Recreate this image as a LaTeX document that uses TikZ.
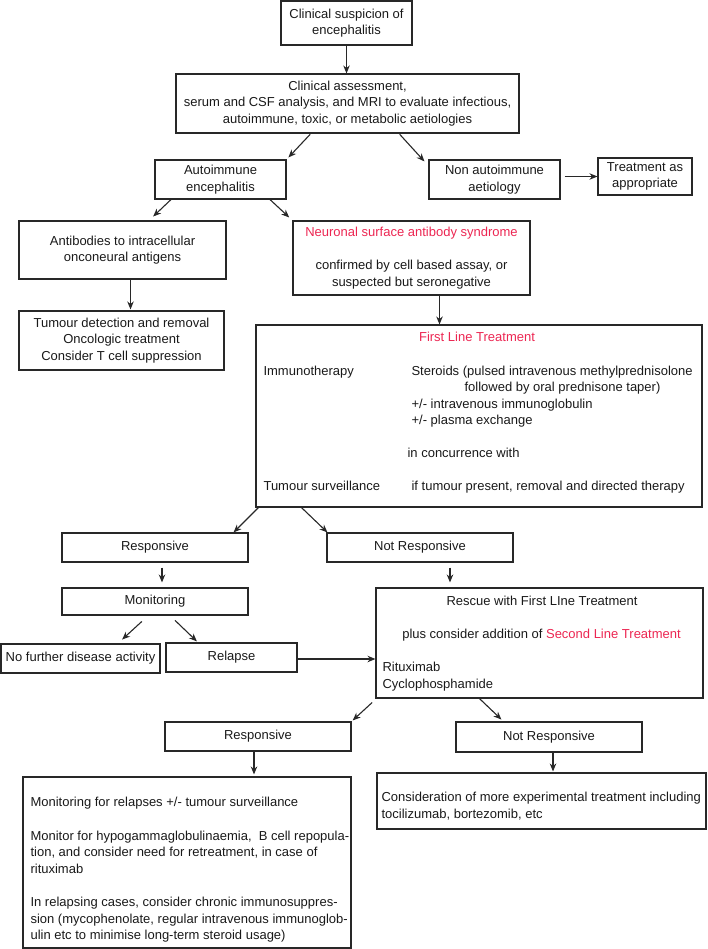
\documentclass[tikz,border=0pt]{standalone}
\usepackage{fontspec}
\setmainfont{Liberation Sans}
\usepackage{tikz}
\usetikzlibrary{arrows.meta, positioning}
\definecolor{alertred}{RGB}{236,38,82}
\definecolor{boxline}{RGB}{40,40,40}

\begin{document}
\begin{tikzpicture}[x=1pt, y=-1pt, ->, >={Stealth[length=8pt,width=6.5pt]}, line width=1.1pt,
 draw=boxline, font=\fontsize{13}{16.6}\selectfont, text=black!90]
 \tikzstyle{box}=[draw=boxline, inner sep=0pt, align=center]
 \tikzstyle{txt}=[inner sep=0pt, anchor=base west]

 \useasboundingbox (0,0) rectangle (708,949);

 \node[box, minimum width=131pt, minimum height=44pt] (susp) at (346.5,23) {Clinical suspicion of\\encephalitis};
 \node[box, minimum width=343pt, minimum height=59pt] (assess) at (347.5,103.5) {Clinical assessment,\\serum and CSF analysis, and MRI to evaluate infectious,\\autoimmune, toxic, or metabolic aetiologies};
 \node[box, minimum width=131pt, minimum height=39pt] (autoimm) at (220.5,179.5) {Autoimmune\\encephalitis};
 \node[box, minimum width=131pt, minimum height=39pt] (nonauto) at (494.5,179.5) {Non autoimmune\\aetiology};
 \node[box, minimum width=94pt, minimum height=37pt] (treatapp) at (645,176.5) {Treatment as\\appropriate};
 \node[box, minimum width=207pt, minimum height=58pt] (intracell) at (122.5,250) {Antibodies to intracellular\\onconeural antigens};
 \node[box, minimum width=237pt, minimum height=74pt] (surface) at (411.5,258) {\textcolor{alertred}{Neuronal surface antibody syndrome}\\[16.6pt]confirmed by cell based assay, or\\suspected but seronegative};
 \node[box, minimum width=205pt, minimum height=59pt] (tumour) at (121.5,340.5) {Tumour detection and removal\\Oncologic treatment\\Consider T cell suppression};

 \node[box, minimum width=446pt, minimum height=182pt] (firstline) at (479,416) {};
 \node[txt, anchor=base, text=alertred] (fltitle) at (477,341.5) {First Line Treatment};
 \node[txt] (immuno) at (263,375.5) {Immunotherapy};
 \node[txt] (steroids) at (411,375.5) {Steroids (pulsed intravenous methylprednisolone};
 \node[txt] (taper) at (464,391.5) {followed by oral prednisone taper)};
 \node[txt] (ivig) at (411,408) {+/- intravenous immunoglobulin};
 \node[txt] (plex) at (411,424.5) {+/- plasma exchange};
 \node[txt] (concur) at (407,457.5) {in concurrence with};
 \node[txt] (tsurv) at (263,490.5) {Tumour surveillance};
 \node[txt] (tpresent) at (411,490.5) {if tumour present, removal and directed therapy};

 \node[box, minimum width=186pt, minimum height=29pt] (resp) at (155,547.5) {Responsive};
 \node[box, minimum width=186pt, minimum height=29pt] (notresp) at (420,547.5) {Not Responsive};
 \node[box, minimum width=186pt, minimum height=27pt] (monitor) at (155,601.5) {Monitoring};
 \node[box, minimum width=159pt, minimum height=29pt] (nofurther) at (80.5,658.5) {No further disease activity};
 \node[box, minimum width=131pt, minimum height=29pt] (relapse) at (231.5,657.5) {Relapse};

 \node[box, minimum width=327pt, minimum height=110pt] (rescue) at (539.5,643) {};
 \node[txt, anchor=base] (rescuetitle) at (542,605.5) {Rescue with First LIne Treatment};
 \node[txt, anchor=base] (secondline) at (541.5,638.5) {plus consider addition of \textcolor{alertred}{Second Line Treatment}};
 \node[txt] (ritux) at (382,671.5) {Rituximab};
 \node[txt] (cyclo) at (382,688.5) {Cyclophosphamide};

 \node[box, minimum width=186pt, minimum height=29pt] (resp2) at (258,736.5) {Responsive};
 \node[box, minimum width=186pt, minimum height=30pt] (notresp2) at (549,737) {Not Responsive};

 \node[box, minimum width=328pt, minimum height=171pt] (followup) at (187,862.5) {};
 \node[txt, anchor=north west, align=left] (followtxt) at (30,797) {Monitoring for relapses +/- tumour surveillance\\[16.6pt]Monitor for hypogammaglobulinaemia,\ \ B cell repopula-\\tion, and consider need for retreatment, in case of\\rituximab\\[16.6pt]In relapsing cases, consider chronic immunosuppres-\\sion (mycophenolate, regular intravenous immunoglob-\\ulin etc to minimise long-term steroid usage)};
 \node[box, minimum width=329pt, minimum height=56pt] (experim) at (541.5,801) {};
 \node[txt, anchor=north west, align=left] (experimtxt) at (381,792) {Consideration of more experimental treatment including\\tocilizumab, bortezomib, etc};

 \path (susp.south) edge (susp.south |- assess.north)
       ([xshift=-36.6pt]assess.south) edge [shorten <=1pt, shorten >=2.7pt] (autoimm.north east)
       ([xshift=51.5pt]assess.south) edge [shorten <=1pt] ([xshift=-4pt,yshift=-2pt]nonauto.north west)
       (nonauto.east |- treatapp.west) edge [shorten <=4pt] (treatapp.west)
       ([xshift=-49.5pt]autoimm.south) edge [shorten >=5.7pt] ([xshift=26.5pt]intracell.north)
       ([xshift=49.5pt]autoimm.south) edge [shorten >=4.4pt] (surface.north west)
       ([xshift=8pt]intracell.south) edge [shorten >=1pt] ([xshift=8pt]intracell.south |- tumour.north)
       ([xshift=28pt]surface.south) edge ([xshift=28pt]surface.south |- firstline.north)
       ([xshift=3pt]firstline.south west) edge ([xshift=-15pt]resp.north east)
       ([xshift=46pt]firstline.south west) edge ([xshift=1pt]notresp.north west)
       ([xshift=7pt]resp.south) edge [shorten <=5pt, shorten >=5pt] ([xshift=7pt]resp.south |- monitor.north)
       ([xshift=30pt]notresp.south) edge [shorten <=5pt, shorten >=5pt] ([xshift=30pt]notresp.south |- rescue.north)
       ([xshift=-6.7pt]monitor.south) edge [shorten <=8.7pt, shorten >=5.8pt] ([xshift=37.3pt]nofurther.north)
       ([xshift=15pt]monitor.south) edge [shorten <=7pt, shorten >=1.5pt] ([xshift=-33.5pt]relapse.north)
       ([yshift=-1.5pt]relapse.east) edge ([yshift=-1.5pt]relapse.east -| rescue.west)
       ([xshift=1pt]rescue.south west) edge [shorten <=5.8pt, shorten >=1.5pt] (resp2.north east)
       ([xshift=104pt]rescue.south west) edge [shorten >=2.8pt] ([xshift=48pt]notresp2.north west)
       ([xshift=-4pt]resp2.south) edge [shorten >=2pt] ([xshift=-4pt]resp2.south |- followup.north)
       ([xshift=4pt]notresp2.south) edge [shorten >=1pt] ([xshift=4pt]notresp2.south |- experim.north);
\end{tikzpicture}
\end{document}
